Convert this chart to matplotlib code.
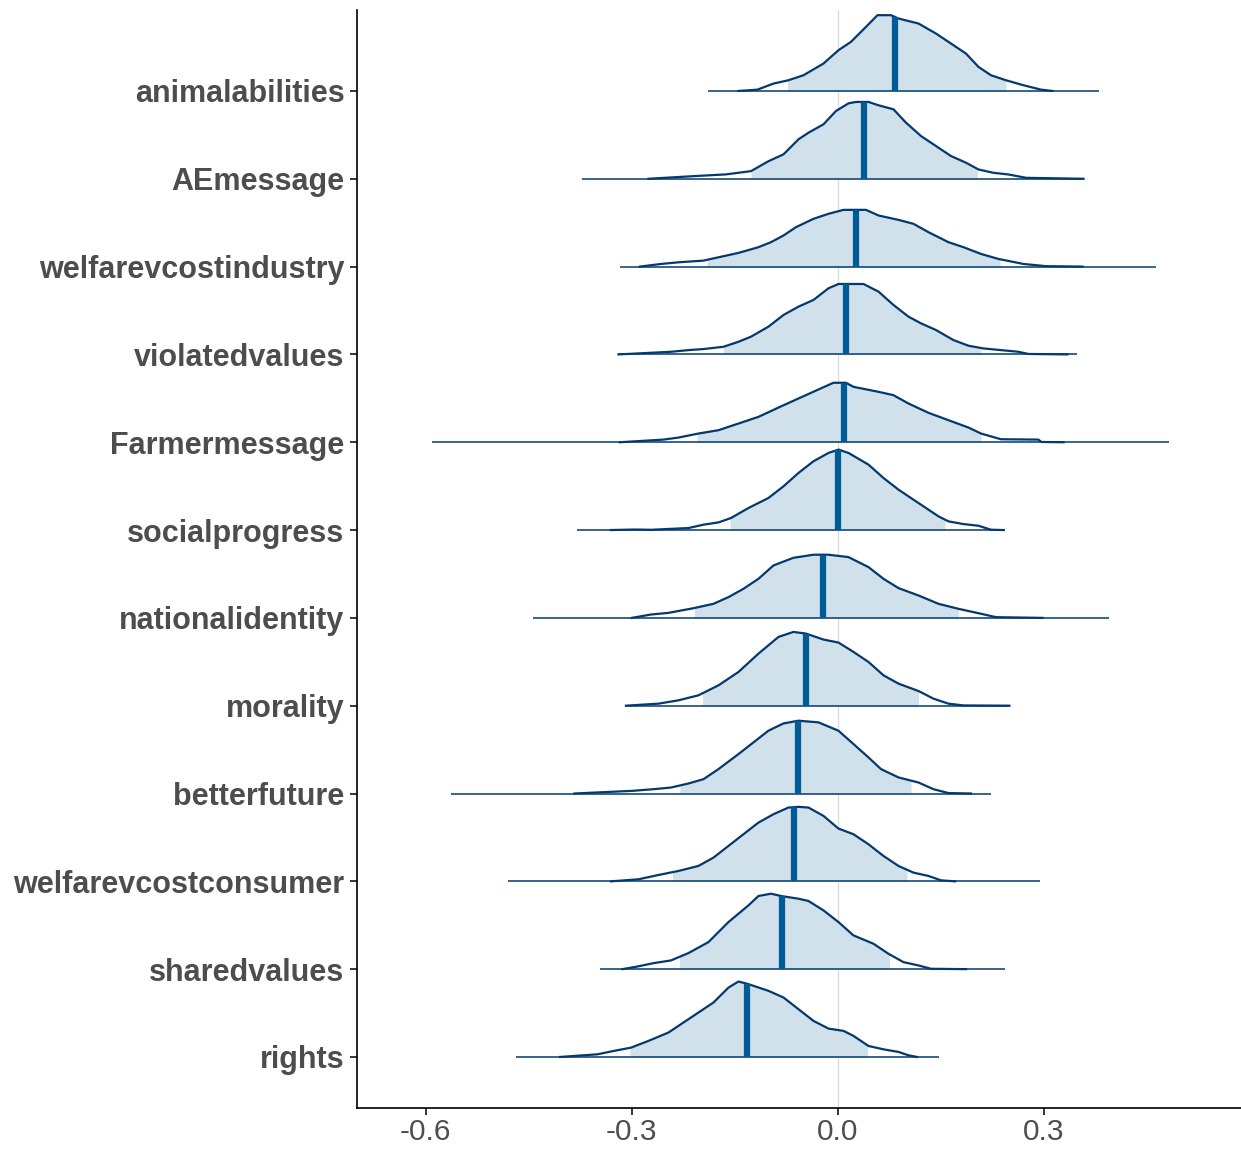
import numpy as np
import matplotlib.pyplot as plt

# parameter names, top to bottom
params = ['animalabilities', 'AEmessage', 'welfarevcostindustry', 'violatedvalues',
          'Farmermessage', 'socialprogress', 'nationalidentity', 'morality',
          'betterfuture', 'welfarevcostconsumer', 'sharedvalues', 'rights']

# posterior medians
medians = [0.083, 0.0386, 0.0269, 0.012, 0.0087, 0.0007,
           -0.0211, -0.0466, -0.0575, -0.0633, -0.0808, -0.1317]

# shaded interval
inner_lo = [-0.0735, -0.1266, -0.1907, -0.1667, -0.2052, -0.1572,
            -0.2089, -0.1972, -0.2300, -0.2409, -0.2307, -0.3028]
inner_hi = [0.2445, 0.2031, 0.2358, 0.2082, 0.2082, 0.1557,
            0.1754, 0.1172, 0.1063, 0.1004, 0.0750, 0.0429]

# full range of draws (thin line)
range_lo = [-0.1885, -0.3719, -0.3173, -0.3195, -0.5903, -0.3792,
            -0.4432, -0.3086, -0.5633, -0.4796, -0.3464, -0.4687]
range_hi = [0.3792, 0.3574, 0.4629, 0.3486, 0.4811, 0.2424,
            0.3952, 0.2496, 0.2227, 0.2940, 0.2424, 0.1477]

# density curves (x value, scaled height)
animalabilities_x = [-0.1448, -0.1172, -0.0939, -0.0721, -0.0502, -0.0211, 0.0007, 0.0189, 0.0408,
                     0.0575, 0.0771, 0.0881, 0.1172, 0.1426, 0.1608, 0.1863, 0.2045, 0.2227,
                     0.2445, 0.2700, 0.2955, 0.3122]
animalabilities_h = [0, 0.015, 0.084, 0.122, 0.179, 0.312, 0.464, 0.559, 0.730,
                     0.863, 0.863, 0.825, 0.768, 0.654, 0.559, 0.426, 0.274, 0.179,
                     0.122, 0.065, 0.015, 0]

AEmessage_x = [-0.2758, -0.2103, -0.1630, -0.1266, -0.1012, -0.0793, -0.0575, -0.0429, -0.0211,
               -0.0029, 0.0153, 0.0262, 0.0444, 0.0590, 0.0808, 0.0990, 0.1208, 0.1426, 0.1645,
               0.1863, 0.2045, 0.2263, 0.2482, 0.2737, 0.3574]
AEmessage_h = [0, 0.03, 0.05, 0.087, 0.20, 0.278, 0.449, 0.525, 0.620,
               0.772, 0.859, 0.875, 0.875, 0.837, 0.791, 0.639, 0.487, 0.373, 0.259,
               0.183, 0.106, 0.068, 0.049, 0.011, 0]

welfarevcostindustry_x = [-0.2882, -0.2576, -0.2322, -0.1958, -0.1739, -0.1448, -0.1157, -0.0975,
                          -0.0793, -0.0611, -0.0357, -0.0138, 0.0080, 0.0408, 0.0590, 0.0881,
                          0.1099, 0.1317, 0.1608, 0.1827, 0.2082, 0.2336, 0.2700, 0.3028, 0.3560]
welfarevcostindustry_h = [0, 0.03, 0.049, 0.068, 0.106, 0.156, 0.221, 0.278,
                          0.354, 0.449, 0.544, 0.601, 0.646, 0.646, 0.582, 0.532,
                          0.487, 0.392, 0.278, 0.221, 0.144, 0.087, 0.03, 0.005, 0]

violatedvalues_x = [-0.3195, -0.2431, -0.2176, -0.1958, -0.1667, -0.1448, -0.1266, -0.1012, -0.0793,
                    -0.0575, -0.0357, -0.0138, 0.0007, 0.0371, 0.0590, 0.0808, 0.1026, 0.1208,
                    0.1426, 0.1681, 0.1900, 0.2118, 0.2373, 0.2627, 0.2773, 0.3340]
violatedvalues_h = [0, 0.03, 0.049, 0.061, 0.087, 0.144, 0.202, 0.316, 0.449,
                    0.544, 0.620, 0.753, 0.802, 0.802, 0.715, 0.563, 0.430, 0.354,
                    0.278, 0.163, 0.099, 0.068, 0.049, 0.03, 0.005, 0]

Farmermessage_x = [-0.3173, -0.2540, -0.2322, -0.2031, -0.1739, -0.1448, -0.1157, -0.0866, -0.0575,
                   -0.0284, -0.0066, 0.0116, 0.0226, 0.0590, 0.0808, 0.1026, 0.1317, 0.1608,
                   0.1900, 0.2082, 0.2373, 0.2918, 0.2960, 0.3282]
Farmermessage_h = [0, 0.03, 0.053, 0.099, 0.137, 0.213, 0.289, 0.395, 0.498,
                   0.601, 0.677, 0.677, 0.631, 0.574, 0.536, 0.441, 0.335, 0.251,
                   0.167, 0.099, 0.034, 0.03, 0.003, 0]

socialprogress_x = [-0.3304, -0.2962, -0.2722, -0.2176, -0.1958, -0.1739, -0.1557, -0.1303, -0.1012,
                    -0.0793, -0.0575, -0.0357, -0.0138, 0.0007, 0.0153, 0.0444, 0.0662, 0.0881,
                    0.1099, 0.1317, 0.1463, 0.1608, 0.1827, 0.2045, 0.2227, 0.2410]
socialprogress_h = [0, 0.006, 0.003, 0.023, 0.061, 0.087, 0.137, 0.251, 0.365,
                    0.498, 0.650, 0.783, 0.878, 0.916, 0.878, 0.745, 0.593, 0.460,
                    0.346, 0.232, 0.156, 0.099, 0.068, 0.049, 0.004, 0]

nationalidentity_x = [-0.2999, -0.2722, -0.2467, -0.2103, -0.1812, -0.1594, -0.1376, -0.1157, -0.0939,
                      -0.0648, -0.0357, -0.0138, 0.0153, 0.0444, 0.0662, 0.0881, 0.1172, 0.1463,
                      0.1754, 0.2045, 0.2300, 0.2977]
nationalidentity_h = [0, 0.038, 0.057, 0.110, 0.160, 0.236, 0.331, 0.445, 0.597,
                      0.684, 0.719, 0.719, 0.692, 0.578, 0.445, 0.339, 0.255, 0.160,
                      0.103, 0.053, 0.008, 0]

morality_x = [-0.3086, -0.2613, -0.2322, -0.2031, -0.1739, -0.1448, -0.1157, -0.0866, -0.0648,
              -0.0466, -0.0211, 0.0007, 0.0226, 0.0444, 0.0662, 0.0881, 0.1172, 0.1390,
              0.1608, 0.1827, 0.2496]
morality_h = [0, 0.023, 0.061, 0.118, 0.232, 0.384, 0.593, 0.783, 0.840,
              0.821, 0.753, 0.719, 0.612, 0.498, 0.346, 0.251, 0.167, 0.080,
              0.023, 0.003, 0]

betterfuture_x = [-0.3836, -0.2999, -0.2686, -0.2431, -0.2176, -0.1958, -0.1739, -0.1448, -0.1230,
                  -0.1012, -0.0793, -0.0575, -0.0284, 0.0007, 0.0226, 0.0444, 0.0626, 0.0881,
                  0.1172, 0.1390, 0.1608, 0.1936]
betterfuture_h = [0, 0.030, 0.049, 0.068, 0.114, 0.163, 0.278, 0.449, 0.582,
                  0.715, 0.798, 0.829, 0.810, 0.715, 0.563, 0.411, 0.278, 0.183,
                  0.125, 0.049, 0.005, 0]

welfarevcostconsumer_x = [-0.3304, -0.2904, -0.2613, -0.2322, -0.2031, -0.1812, -0.1594, -0.1376,
                          -0.1157, -0.0939, -0.0721, -0.0575, -0.0429, -0.0211, 0.0007, 0.0226,
                          0.0444, 0.0662, 0.0881, 0.1099, 0.1317, 0.1499, 0.1703]
welfarevcostconsumer_h = [0, 0.023, 0.072, 0.118, 0.175, 0.270, 0.403, 0.536,
                          0.669, 0.764, 0.840, 0.848, 0.840, 0.745, 0.601, 0.536,
                          0.422, 0.289, 0.175, 0.099, 0.061, 0.011, 0]

sharedvalues_x = [-0.3137, -0.2918, -0.2686, -0.2431, -0.2176, -0.1885, -0.1594, -0.1303, -0.1157,
                  -0.0975, -0.0830, -0.0575, -0.0429, -0.0211, 0.0007, 0.0226, 0.0517, 0.0735,
                  0.0953, 0.1172, 0.1354, 0.1863]
sharedvalues_h = [0, 0.030, 0.068, 0.099, 0.183, 0.308, 0.536, 0.726, 0.833,
                  0.859, 0.833, 0.802, 0.776, 0.669, 0.536, 0.384, 0.289, 0.175,
                  0.080, 0.042, 0.004, 0]

rights_x = [-0.4047, -0.3501, -0.3268, -0.3013, -0.2758, -0.2467, -0.2249, -0.2031, -0.1812,
            -0.1594, -0.1448, -0.1303, -0.1012, -0.0793, -0.0575, -0.0357, -0.0138, 0.0080,
            0.0226, 0.0444, 0.0662, 0.0881, 0.1026, 0.1150]
rights_h = [0, 0.030, 0.068, 0.106, 0.183, 0.278, 0.392, 0.506, 0.620,
            0.790, 0.859, 0.829, 0.753, 0.677, 0.544, 0.411, 0.323, 0.297,
            0.240, 0.125, 0.087, 0.057, 0.019, 0]

dens_x = [animalabilities_x, AEmessage_x, welfarevcostindustry_x, violatedvalues_x,
          Farmermessage_x, socialprogress_x, nationalidentity_x, morality_x,
          betterfuture_x, welfarevcostconsumer_x, sharedvalues_x, rights_x]
dens_h = [animalabilities_h, AEmessage_h, welfarevcostindustry_h, violatedvalues_h,
          Farmermessage_h, socialprogress_h, nationalidentity_h, morality_h,
          betterfuture_h, welfarevcostconsumer_h, sharedvalues_h, rights_h]

x_ticks = [-0.6, -0.3, 0.0, 0.3]
x_labels = ['-0.6', '-0.3', '0.0', '0.3']

light = '#d1e1ec'
mid_hl = '#005b96'
dark = '#03396c'

plt.rcParams['font.family'] = ['Liberation Sans', 'DejaVu Sans']

fig = plt.figure(figsize=(12.41, 11.49), dpi=100)
ax = fig.add_axes([0.2877, 0.0357, 0.7123, 0.9556])

ax.axvline(0, color='#dcdcdc', lw=1.0, zorder=0)

n = len(params)
for i in range(n):
    base = n - i
    xs = np.array(dens_x[i])
    hs = np.array(dens_h[i])
    # shaded inner interval
    xx = np.linspace(inner_lo[i], inner_hi[i], 300)
    ax.fill_between(xx, base, base + np.interp(xx, xs, hs), color=light, lw=0, zorder=1)
    # full range baseline
    ax.plot([range_lo[i], range_hi[i]], [base, base], color=dark, lw=1.1, zorder=2,
            solid_capstyle='butt')
    # density outline
    ax.plot(xs, base + hs, color=dark, lw=1.6, zorder=3, solid_joinstyle='round')
    # median
    ax.plot([medians[i], medians[i]], [base, base + np.interp(medians[i], xs, hs)],
            color=mid_hl, lw=4.5, zorder=4, solid_capstyle='butt')

ax.set_xlim(-0.700, 0.5866)
ax.set_ylim(0.419, 12.922)
ax.set_xticks(x_ticks)
ax.set_xticklabels(x_labels)
ax.set_yticks(range(n, 0, -1))
ax.set_yticklabels(params, fontweight='bold')

ax.spines['top'].set_visible(False)
ax.spines['right'].set_visible(False)
ax.spines['left'].set_linewidth(1.2)
ax.spines['bottom'].set_linewidth(1.2)
ax.tick_params(axis='y', length=5, width=1.1, pad=4, labelsize=22, labelcolor='#4d4d4d')
ax.tick_params(axis='x', length=5, width=1.1, pad=2, labelsize=21.5, labelcolor='#4d4d4d')

fig.savefig('out.png', dpi=100)
